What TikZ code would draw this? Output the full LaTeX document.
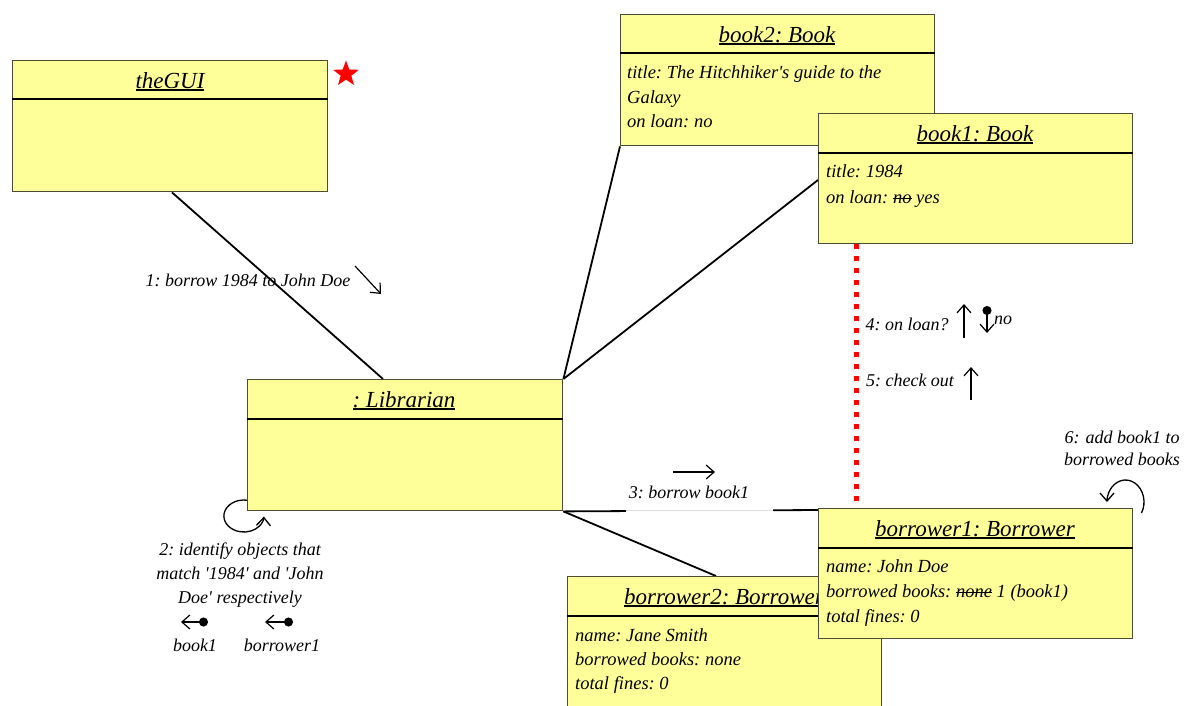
\documentclass[tikz,border=0pt]{standalone}
\usepackage{fontspec}
\setmainfont{Liberation Serif}
\usetikzlibrary{arrows.meta,shapes.geometric,backgrounds,calc}
% thick underline for object names, strike-out for overwritten values
\newcommand{\objul}[1]{\setbox0\hbox{#1}\rlap{\rule[-3pt]{\wd0}{1.6pt}}\box0\relax}
\newcommand{\objstrike}[1]{\setbox0\hbox{#1}\rlap{\rule[4pt]{\wd0}{1.3pt}}\box0\relax}
\newcommand{\sq}{\textquotesingle}
\definecolor{objfill}{HTML}{FFFF99}
\definecolor{objline}{HTML}{4D4D33}
\tikzset{
  obj/.style={draw=objline, line width=1.4pt, fill=objfill, anchor=north west,
    minimum width=315pt, minimum height=131pt, inner sep=0pt},
  hdr/.style={anchor=base, inner sep=0pt, font=\fontsize{23}{27}\selectfont\itshape\frenchspacing},
  attr/.style={anchor=base west, inner sep=0pt, font=\fontsize{18.5}{22}\selectfont\itshape\frenchspacing},
  msg/.style={inner sep=0pt, align=center, font=\fontsize{18}{24}\selectfont\itshape\frenchspacing},
  sepline/.style={line width=1.3pt},
  link/.style={line width=1.8pt},
  marrow/.style={line width=1.2pt, -{Straight Barb[length=8pt,width=14pt]}},
  darrow/.style={line width=1.2pt, {Circle[length=9pt]}-{Straight Barb[length=8pt,width=14pt]}},
  loopline/.style={line width=1.3pt, -{Straight Barb[length=8pt,width=14pt]}},
  mark star/.style={star, star points=5, star point ratio=2.4, fill=red, draw=none,
    minimum size=27pt, inner sep=0pt}
}
\begin{document}
\begin{tikzpicture}[x=1pt,y=-1pt]
\useasboundingbox (0,0) rectangle (1188,705);

% ---------- objects ----------
\node[obj] (gui) at (12,60) {};
\node[hdr] (guih) at (170,88) {\objul{theGUI}};
\draw[sepline] ([yshift=-39pt]gui.north west) -- ([yshift=-39pt]gui.north east);
\node[mark star] (star) at (346,74) {};

\node[obj, minimum width=314pt] (book2) at (620,14) {};
\node[hdr] (book2h) at (777,42) {\objul{book2: Book}};
\draw[sepline] ([yshift=-39pt]book2.north west) -- ([yshift=-39pt]book2.north east);
\node[attr] (book2a) at (627,78) {title: The Hitchhiker\sq s guide to the};
\node[attr] (book2b) at (627,103) {Galaxy};
\node[attr] (book2c) at (627,127) {on loan: no};

\node[obj, minimum width=314pt, minimum height=130pt] (book1) at (818,113) {};
\node[hdr] (book1h) at (975,141) {\objul{book1: Book}};
\draw[sepline] ([yshift=-40pt]book1.north west) -- ([yshift=-40pt]book1.north east);
\node[attr] (book1a) at (826,177) {title: 1984};
\node[attr] (book1b) at (826,203) {on loan: \objstrike{no} yes};

\node[obj] (lib) at (247,379) {};
\node[hdr] (libh) at (404,407) {\objul{: Librarian}};
\draw[sepline] ([yshift=-40pt]lib.north west) -- ([yshift=-40pt]lib.north east);

\node[obj, minimum width=314pt, minimum height=140pt] (b2) at (567,576) {};
\node[hdr] (b2h) at (724,604) {\objul{borrower2: Borrower}};
\draw[sepline] ([yshift=-40pt]b2.north west) -- ([yshift=-40pt]b2.north east);
\node[attr] (b2a) at (575,641) {name: Jane Smith};
\node[attr] (b2b) at (575,665) {borrowed books: none};
\node[attr] (b2c) at (575,689) {total fines: 0};

\node[obj, minimum width=314pt, minimum height=130pt] (b1) at (818,508) {};
\node[hdr] (b1h) at (975,536) {\objul{borrower1: Borrower}};
\draw[sepline] ([yshift=-40pt]b1.north west) -- ([yshift=-40pt]b1.north east);
\node[attr] (b1a) at (826,572) {name: John Doe};
\node[attr] (b1b) at (826,597) {borrowed books: \objstrike{none} 1 (book1)};
\node[attr] (b1c) at (826,622) {total fines: 0};

% ---------- links ----------
\begin{pgfonlayer}{background}
  \draw[link] ([xshift=160pt]gui.south west) -- ([xshift=136pt]lib.north west);
  \draw[link] (book2.south west) -- (lib.north east);
  \draw[link] ([yshift=-67pt]book1.north west) -- (lib.north east);
  \draw[link] (lib.south east) -- ([yshift=-2pt]b1.north west);
  \draw[link] (lib.south east) -- ([xshift=149pt]b2.north west);
  \draw[red, line width=5pt, dash pattern=on 5pt off 7pt]
    ([xshift=38pt]book1.south west) -- ([xshift=38pt]b1.north west);
  % self calls
  \draw[loopline] (247,500.2) arc[start angle=-81, end angle=-358, x radius=20, y radius=16];
  \draw[loopline] (1141.5,513) arc[start angle=30, end angle=-180, x radius=18.5, y radius=22];
\end{pgfonlayer}

% gap in the link behind message 3
\fill[white] (626,506) rectangle (773,514);
\draw[gray!25, line width=1pt] (626,510) -- (773,510);

% ---------- messages ----------
\node[msg] (m1) at (248,280) {1: borrow 1984 to John Doe};
\coordinate (m1s) at (355,266);
\coordinate (m1e) at (381,294);
\draw[marrow] (m1s) -- (m1e);

\node[msg] (m2) at (240,575) {2: identify objects that\\match \sq 1984\sq{} and \sq John\\Doe\sq{} respectively};
\coordinate (r1s) at (208,622);
\coordinate (r1e) at (181,622);
\coordinate (r2s) at (293,622);
\coordinate (r2e) at (265,622);
\draw[darrow] (r1s) -- (r1e);
\draw[darrow] (r2s) -- (r2e);
\node[msg] (r1) at (195,645) {book1};
\node[msg] (r2) at (282,645) {borrower1};

\node[msg] (m3) at (689,492) {3: borrow book1};
\coordinate (m3s) at (673,472);
\coordinate (m3e) at (715,472);
\draw[marrow] (m3s) -- (m3e);

\node[msg] (m4) at (907,324) {4: on loan?};
\coordinate (m4s) at (964,338);
\coordinate (m4e) at (964,304);
\draw[marrow] (m4s) -- (m4e);
\coordinate (r4s) at (987,306);
\coordinate (r4e) at (987,333);
\draw[darrow] (r4s) -- (r4e);
\node[msg, anchor=west] (r4) at (994,320) {no};

\node[msg] (m5) at (910,380) {5: check out};
\coordinate (m5s) at (971,400);
\coordinate (m5e) at (971,367);
\draw[marrow] (m5s) -- (m5e);

\node[msg, align=center, font=\fontsize{18}{22}\selectfont\itshape] (m6) at (1122,448) {6: add book1 to\\borrowed books};
\end{tikzpicture}
\end{document}
